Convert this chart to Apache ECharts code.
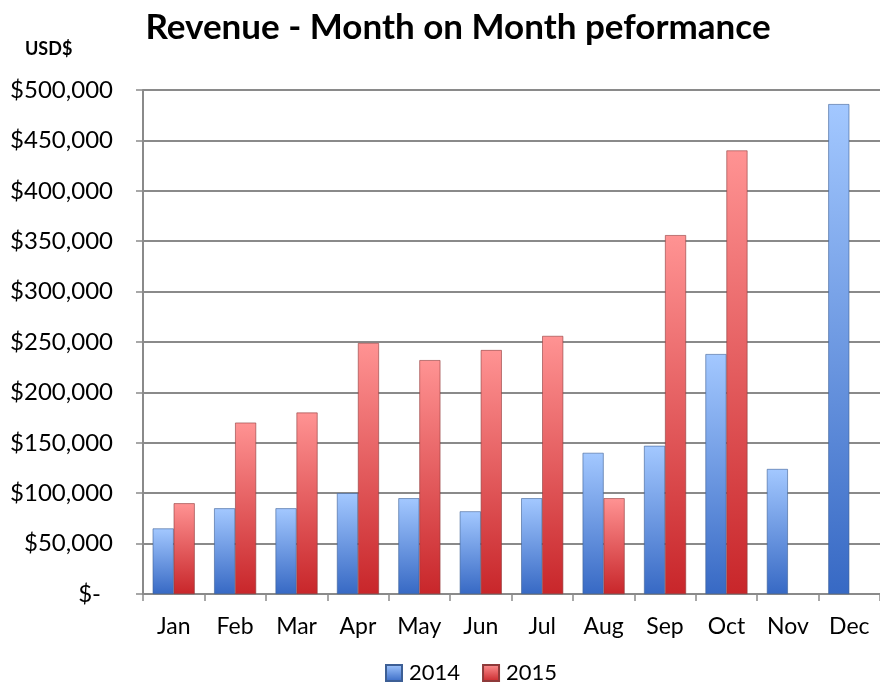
<!DOCTYPE html>
<html>
<head>
<meta charset="utf-8">
<script src="https://cdn.jsdelivr.net/npm/echarts@6/dist/echarts.min.js"></script>
<style>
html,body{margin:0;padding:0;background:#fff;}
#chart{width:880px;height:686px;}
</style>
</head>
<body>
<div id="chart"></div>
<script>
var months = ['Jan','Feb','Mar','Apr','May','Jun','Jul','Aug','Sep','Oct','Nov','Dec'];
var rev2014 = [65000, 85000, 85000, 100000, 95000, 82000, 95000, 140000, 147000, 238000, 124000, 486000];
var rev2015 = [90000, 170000, 180000, 249000, 232000, 242000, 256000, 95000, 356000, 440000, null, null];
var seriesNames = ['2014', '2015'];

var FONT = 'Lato, "Open Sans", sans-serif';
var chart = echarts.init(document.getElementById('chart'));

function grad(top, bottom) {
  return new echarts.graphic.LinearGradient(0, 0, 0, 1, [
    {offset: 0, color: top},
    {offset: 1, color: bottom}
  ]);
}

chart.setOption({
  animation: false,
  backgroundColor: '#ffffff',
  title: [
    {
      text: 'Revenue - Month on Month peformance',
      left: 453, top: 5, textAlign: 'center',
      textStyle: {fontFamily: FONT, fontWeight: 'bold', fontSize: 35, color: '#000'}
    },
    {
      text: 'USD$',
      left: 20, top: 35,
      textStyle: {fontFamily: FONT, fontWeight: 'bold', fontSize: 18, color: '#000'}
    }
  ],
  legend: {
    data: seriesNames,
    top: 657, left: 380,
    itemWidth: 16, itemHeight: 16, itemGap: 22,
    icon: 'rect',
    textStyle: {fontFamily: FONT, fontSize: 22, color: '#000', padding: [0, 0, 0, 2]}
  },
  grid: {left: 143, right: 0, top: 90, bottom: 92, containLabel: false},
  xAxis: {
    type: 'category',
    data: months,
    axisLine: {lineStyle: {color: '#8a8a8a', width: 2}},
    axisTick: {show: true, length: 7, lineStyle: {color: '#8a8a8a', width: 1.5}},
    axisLabel: {fontFamily: FONT, fontSize: 23, color: '#000', margin: 21}
  },
  yAxis: {
    type: 'value',
    min: 0, max: 500000, interval: 50000,
    axisLine: {show: true, lineStyle: {color: '#8a8a8a', width: 2}},
    axisTick: {show: true, length: 7, lineStyle: {color: '#8a8a8a', width: 1.5}},
    splitLine: {lineStyle: {color: '#8a8a8a', width: 2}},
    axisLabel: {
      fontFamily: FONT, fontSize: 24, color: '#000', margin: 30,
      formatter: function (v) {
        if (v === 0) return '{z|$-}';
        return '$' + v.toLocaleString('en-US');
      },
      rich: {
        z: {fontFamily: FONT, fontSize: 24, color: '#000', padding: [0, 12, 0, 0]}
      }
    }
  },
  series: [
    {
      name: seriesNames[0], type: 'bar', data: rev2014,
      barWidth: 21, barGap: '0%',
      itemStyle: {color: grad('#a3c8ff', '#3769c4'), borderColor: '#3d5f95', borderWidth: 0.6}
    },
    {
      name: seriesNames[1], type: 'bar', data: rev2015,
      barWidth: 21, barGap: '0%',
      itemStyle: {color: grad('#ff9393', '#c8262a'), borderColor: '#8e3a3a', borderWidth: 0.6}
    }
  ]
});
</script>
</body>
</html>
